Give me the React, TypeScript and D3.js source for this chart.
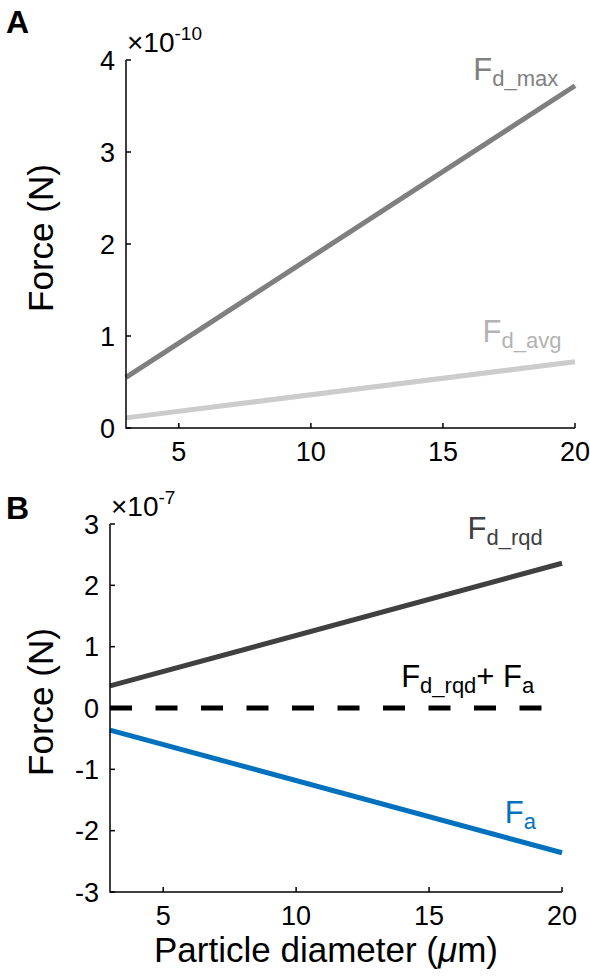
import React from "react";
import * as d3 from "d3";

// ---- data ----
const diameters = [3, 20];
const fdMax = [0.55, 3.72]; // x1e-10 N
const fdAvg = [0.11, 0.72]; // x1e-10 N
const fdRqd = [0.36, 2.36]; // x1e-7 N
const fa = [-0.36, -2.36]; // x1e-7 N
const sumLine = [0, 0];
const xTicks = [5, 10, 15, 20];
const yTicksA = [0, 1, 2, 3, 4];
const yTicksB = [-3, -2, -1, 0, 1, 2, 3];

const FONT = "'Liberation Sans', Arial, Helvetica, sans-serif";

type Series = { y: number[]; color: string; dash?: string };

function Panel(props: {
  left: number; right: number; top: number; bottom: number;
  yTicks: number[]; exp: string; letter: string; letterY: number;
  series: Series[]; labels: React.ReactNode[];
  x: any; y: any;
}) {
  const { left, right, top, bottom, yTicks, exp, letter, series, x, y } = props;
  const line = d3.line<number>().x((_, i) => x(diameters[i])).y((d) => y(d));
  return (
    <g>
      <text x={6} y={props.letterY} fontFamily={FONT} fontWeight="bold" fontSize={32}>{letter}</text>
      <text x={left + 1} y={top - 8} fontFamily={FONT} fontSize={28}>
        ×10<tspan fontSize={19} dy={-12}>{exp}</tspan>
      </text>
      {series.map((s, i) => (
        <path key={i} d={line(s.y) || ""} fill="none" stroke={s.color} strokeWidth={5}
          strokeDasharray={s.dash} />
      ))}
      {/* axes */}
      <path d={`M${left},${top}V${bottom}H${right}`} fill="none" stroke="#000" strokeWidth={1.5} />
      {yTicks.map((t) => (
        <g key={t}>
          <line x1={left} x2={left + 5} y1={y(t)} y2={y(t)} stroke="#000" strokeWidth={1.5} />
          <text x={left - 11} y={y(t)} dy="0.36em" textAnchor="end" fontFamily={FONT} fontSize={27}>{t}</text>
        </g>
      ))}
      {xTicks.map((t) => (
        <g key={t}>
          <line x1={x(t)} x2={x(t)} y1={bottom} y2={bottom - 5} stroke="#000" strokeWidth={1.5} />
          <text x={x(t)} y={bottom + 33} textAnchor="middle" fontFamily={FONT} fontSize={27}>{t}</text>
        </g>
      ))}
      <text transform={`translate(53,${(top + bottom) / 2 - 6}) rotate(-90)`} textAnchor="middle"
        fontFamily={FONT} fontSize={35}>Force (N)</text>
      {props.labels}
    </g>
  );
}

function Label(props: { x: number; y: number; main: string; sub: string; color: string; tail?: React.ReactNode }) {
  return (
    <text x={props.x} y={props.y} fontFamily={FONT} fontSize={31} fill={props.color}>
      {props.main}<tspan fontSize={22} dy={6}>{props.sub}</tspan>{props.tail}
    </text>
  );
}

export default function App() {
  const xA = d3.scaleLinear().domain([3, 20]).range([126, 575]);
  const yA = d3.scaleLinear().domain([0, 4]).range([428, 60]);
  const xB = d3.scaleLinear().domain([3, 20]).range([110, 562]);
  const yB = d3.scaleLinear().domain([-3, 3]).range([892, 524]);

  return (
    <svg width={590} height={978} style={{ position: "absolute", left: 0, top: 0, background: "#fff" }}>
      <Panel left={126} right={575} top={60} bottom={428} yTicks={yTicksA}
        exp="-10" letter="A" letterY={33} x={xA} y={yA}
        series={[{ y: fdMax, color: "#7f7f7f" }, { y: fdAvg, color: "#cccccc" }]}
        labels={[
          <Label key="m" x={xA(16.15)} y={yA(3.78)} main="F" sub="d_max" color="#808080" />,
          <Label key="a" x={xA(16.5)} y={yA(0.94)} main="F" sub="d_avg" color="#b3b3b3" />,
        ]} />
      <Panel left={110} right={562} top={524} bottom={892} yTicks={yTicksB}
        exp="-7" letter="B" letterY={519} x={xB} y={yB}
        series={[
          { y: fdRqd, color: "#404040" },
          { y: fa, color: "#0072bd" },
          { y: sumLine, color: "#000000", dash: "22 23.5" },
        ]}
        labels={[
          <Label key="r" x={xB(16.45)} y={yB(2.76)} main="F" sub="d_rqd" color="#404040" />,
          <Label key="s" x={xB(13.95)} y={yB(0.34)} main="F" sub="d_rqd" color="#000"
            tail={<tspan dy={-6} fontSize={31}>+ F<tspan fontSize={22} dy={6}>a</tspan></tspan>} />,
          <Label key="f" x={xB(17.85)} y={yB(-1.87)} main="F" sub="a" color="#0072bd" />,
        ]} />
      <text x={326} y={962} textAnchor="middle" fontFamily={FONT} fontSize={35}>
        Particle diameter (<tspan fontStyle="italic">μ</tspan>m)
      </text>
    </svg>
  );
}
